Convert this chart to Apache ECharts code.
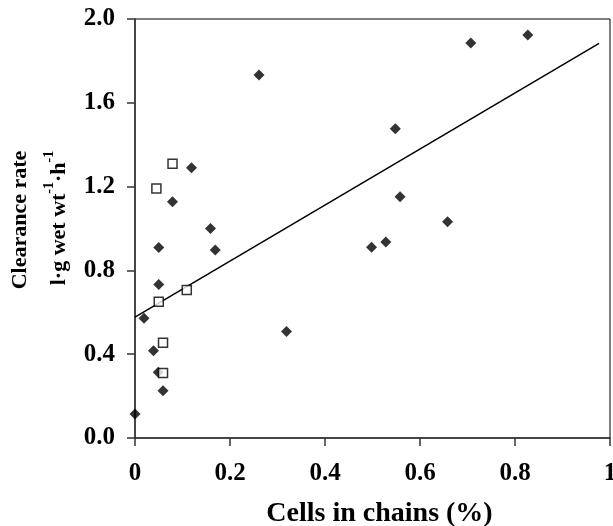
<!DOCTYPE html>
<html>
<head>
<meta charset="utf-8">
<script src="https://cdn.jsdelivr.net/npm/echarts@6/dist/echarts.min.js"></script>
<style>
  html, body { margin: 0; padding: 0; background: #fff; }
  #chart { width: 613px; height: 526px; }
</style>
</head>
<body>
<div id="chart"></div>
<script>
// filled diamonds
const diamondX = [0, 0.019, 0.039, 0.049, 0.059, 0.050, 0.050, 0.079, 0.119, 0.159, 0.169, 0.319, 0.261, 0.548, 0.558, 0.498, 0.528, 0.658, 0.707, 0.827]
const diamondY = [0.115, 0.572, 0.417, 0.314, 0.225, 0.733, 0.909, 1.128, 1.290, 1.000, 0.897, 0.508, 1.733, 1.476, 1.151, 0.911, 0.936, 1.032, 1.886, 1.924]
// open squares
const squareX = [0.079, 0.045, 0.109, 0.050, 0.059, 0.059]
const squareY = [1.309, 1.191, 0.706, 0.650, 0.455, 0.310]
// regression line end points
const fitX = [0, 0.977]
const fitY = [0.577, 1.884]

const xTicks = ['0', '0.2', '0.4', '0.6', '0.8', '1']
const yTicks = ['0.0', '0.4', '0.8', '1.2', '1.6', '2.0']

const zip = (xs, ys) => xs.map((x, i) => [x, ys[i]])
const font = 'Liberation Serif'
const bold = { fontFamily: font, fontWeight: 'bold', fill: '#000' }

const chart = echarts.init(document.getElementById('chart'))
chart.setOption({
  animation: false,
  grid: {
    left: 135, top: 19, right: 3, bottom: 88,
    outerBoundsMode: 'none',
    show: true, borderColor: '#000', borderWidth: 1
  },
  graphic: [
    {
      type: 'text', x: 20, y: 220, rotation: Math.PI / 2,
      style: Object.assign({ text: 'Clearance rate', fontSize: 22, align: 'center', verticalAlign: 'middle' }, bold)
    },
    {
      type: 'text', x: 56, y: 218, rotation: Math.PI / 2,
      style: Object.assign({
        text: '{b|l·g wet wt}{s|-1}{b|·h}{s|-1}',
        align: 'center', verticalAlign: 'middle',
        rich: {
          b: { fontFamily: font, fontWeight: 'bold', fontSize: 22, fill: '#000', lineHeight: 28, verticalAlign: 'bottom' },
          s: { fontFamily: font, fontWeight: 'bold', fontSize: 14, fill: '#000', lineHeight: 28, verticalAlign: 'top' }
        }
      }, bold)
    }
  ],
  xAxis: {
    type: 'value', min: 0, max: 1, interval: 0.2,
    name: 'Cells in chains (%)',
    nameLocation: 'middle', nameGap: 62,
    nameTextStyle: { fontFamily: font, fontWeight: 'bold', fontSize: 28, color: '#000', padding: [0, 0, 0, 14] },
    axisLine: { lineStyle: { color: '#333', width: 1.5 } },
    axisTick: { inside: false, length: 8, lineStyle: { color: '#333', width: 1.5 } },
    axisLabel: {
      margin: 23, fontFamily: font, fontWeight: 'bold', fontSize: 25, color: '#000',
      formatter: v => xTicks[Math.round(v / 0.2)]
    },
    splitLine: { show: false }
  },
  yAxis: {
    type: 'value', min: 0, max: 2, interval: 0.4,
    axisLine: { show: true, lineStyle: { color: '#333', width: 1.5 } },
    axisTick: { show: true, inside: false, length: 8, lineStyle: { color: '#333', width: 1.5 } },
    axisLabel: {
      margin: 20, fontFamily: font, fontWeight: 'bold', fontSize: 25, color: '#000',
      formatter: v => yTicks[Math.round(v / 0.4)]
    },
    splitLine: { show: false }
  },
  series: [
    {
      type: 'line',
      data: zip(fitX, fitY),
      symbol: 'none',
      lineStyle: { color: '#000', width: 1.5 },
      z: 2
    },
    {
      type: 'scatter',
      data: zip(diamondX, diamondY),
      symbol: 'diamond',
      symbolSize: 11,
      itemStyle: { color: '#000' },
      z: 3
    },
    {
      type: 'scatter',
      data: zip(squareX, squareY),
      symbol: 'rect',
      symbolSize: 9,
      itemStyle: { color: '#fff', borderColor: '#000', borderWidth: 1.5 },
      z: 4
    }
  ]
})
</script>
</body>
</html>
